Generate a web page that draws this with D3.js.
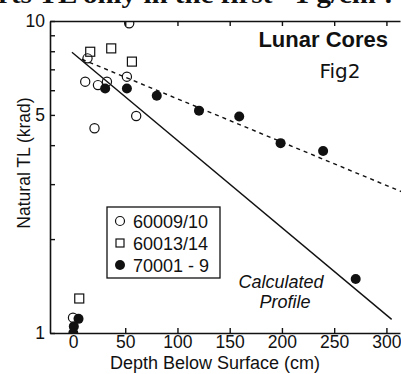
<!DOCTYPE html>
<html><head><meta charset="utf-8">
<script src="https://cdn.jsdelivr.net/npm/d3@7"></script>
<style>
body{margin:0;background:#fff;}
svg{display:block;}
text{font-family:"Liberation Sans",Arial,sans-serif;fill:#111;}
</style></head>
<body>
<svg id="c" width="401" height="374"></svg>
<script>
// ---- data (depth in cm, natural TL in krad) ----
const core60009 = [[13.9,7.59],[11.7,6.39],[23.9,6.23],[32.5,6.39],[51.6,6.63],[60.5,4.96],[20.6,4.53],[53.8,9.83],[0,1.12]];
const core60013 = [[16.5,7.97],[36.6,8.17],[56.4,7.41],[6.0,1.29]];
const core70001 = [[30.8,6.08],[51.6,6.08],[80.2,5.76],[120.6,5.16],[159.1,4.94],[198.7,4.06],[239.4,3.83],[270.6,1.49],[5.3,1.11],[0.8,1.05],[0.3,1.0]];
const profileLine = [[-1,7.94],[305,1.106]];
const fitLine = [[8.6,7.54],[330,2.70]];
const xTicks = [0,50,100,150,200,250,300];
const yTicks = [1,2,3,4,5,6,7,8,9,10];
const yLabels = [1,5,10];
const legendLabels = ["60009/10","60013/14","70001 - 9"];

const svg = d3.select("#c");
const L=50, R=400, T=21, B=333;
const x = d3.scaleLinear().domain([-22,313]).range([L,R]);
const y = d3.scaleLog().domain([1,10]).range([B,T]);

// cropped header text
svg.append("text").attr("x",-2).attr("y",3)
  .attr("textLength",394).attr("lengthAdjust","spacingAndGlyphs")
  .style("font-family","'Liberation Serif','Times New Roman',serif").style("font-weight","bold").style("font-size","25px")
  .text("rts TL only in the first ~1 g/cm².");

svg.append("defs").append("clipPath").attr("id","pc")
  .append("rect").attr("x",L).attr("y",T).attr("width",R-L+2).attr("height",B-T);

// axes
const xa = svg.append("g").attr("transform",`translate(0,${B})`)
  .call(d3.axisBottom(x).tickValues(xTicks).tickSizeInner(-5).tickSizeOuter(0).tickPadding(3));
const xt = svg.append("g").attr("transform",`translate(0,${T})`)
  .call(d3.axisTop(x).tickValues(xTicks.slice(1)).tickSizeInner(-5).tickSizeOuter(0).tickFormat(""));
const ya = svg.append("g").attr("transform",`translate(${L},0)`)
  .call(d3.axisLeft(y).tickValues(yTicks).tickSizeInner(-5).tickSizeOuter(0).tickPadding(5)
    .tickFormat(d=>yLabels.includes(d)?d3.format("d")(d):""));
[xa,xt,ya].forEach(g=>{
  g.selectAll("path.domain").attr("stroke","#111").attr("stroke-width",1.6);
  g.selectAll(".tick line").attr("stroke","#111").attr("stroke-width",1.4);
  g.selectAll(".tick text").style("font-family","'Liberation Sans',Arial,sans-serif").style("font-size","17.5px").attr("fill","#111");
});

// axis titles
svg.append("text").attr("x",215).attr("y",369).attr("text-anchor","middle").style("font-size","18px").text("Depth Below Surface (cm)");
svg.append("text").attr("transform","translate(30,163) rotate(-90)").attr("text-anchor","middle").style("font-size","17.5px").text("Natural TL (krad)");

const plot = svg.append("g").attr("clip-path","url(#pc)");
const line = d3.line().x(d=>x(d[0])).y(d=>y(d[1]));
plot.append("path").datum(profileLine).attr("d",line).attr("fill","none").attr("stroke","#111").attr("stroke-width",1.4);
plot.append("path").datum(fitLine).attr("d",line).attr("fill","none").attr("stroke","#111").attr("stroke-width",1.4).attr("stroke-dasharray","4,4");

plot.selectAll("rect.s").data(core60013).join("rect").attr("class","s")
  .attr("x",d=>x(d[0])-4.5).attr("y",d=>y(d[1])-4.5).attr("width",9).attr("height",9)
  .attr("fill","none").attr("stroke","#111").attr("stroke-width",1.2);
plot.selectAll("circle.o").data(core60009).join("circle").attr("class","o")
  .attr("cx",d=>x(d[0])).attr("cy",d=>y(d[1])).attr("r",4.6)
  .attr("fill","none").attr("stroke","#111").attr("stroke-width",1.2);
plot.selectAll("circle.f").data(core70001).join("circle").attr("class","f")
  .attr("cx",d=>x(d[0])).attr("cy",d=>y(d[1])).attr("r",5)
  .attr("fill","#111");

// annotations
svg.append("text").attr("x",388).attr("y",47).attr("text-anchor","end").style("font-weight","bold").style("font-size","22px").text("Lunar Cores");
svg.append("text").attr("x",340).attr("y",78).attr("text-anchor","middle").style("font-family","'DejaVu Sans',sans-serif").style("font-size","20px").text("Fig2");
svg.append("text").attr("x",281).attr("y",288).attr("text-anchor","middle").style("font-style","italic").style("font-size","18px").text("Calculated");
svg.append("text").attr("x",285).attr("y",308).attr("text-anchor","middle").style("font-style","italic").style("font-size","18px").text("Profile");

// legend
const lg = svg.append("g");
lg.append("rect").attr("x",107).attr("y",207).attr("width",113).attr("height",71).attr("fill","#fff").attr("stroke","#111").attr("stroke-width",1.3);
const ly = [221,243,265];
lg.append("circle").attr("cx",120).attr("cy",ly[0]).attr("r",4.5).attr("fill","none").attr("stroke","#111").attr("stroke-width",1.2);
lg.append("rect").attr("x",116).attr("y",ly[1]-4).attr("width",8).attr("height",8).attr("fill","none").attr("stroke","#111").attr("stroke-width",1.2);
lg.append("circle").attr("cx",120).attr("cy",ly[2]).attr("r",5).attr("fill","#111");
lg.selectAll("text.l").data(legendLabels).join("text").attr("class","l")
  .attr("x",133).attr("y",(d,i)=>ly[i]+6.5).style("font-size","18px").text(d=>d);
</script>
</body></html>
